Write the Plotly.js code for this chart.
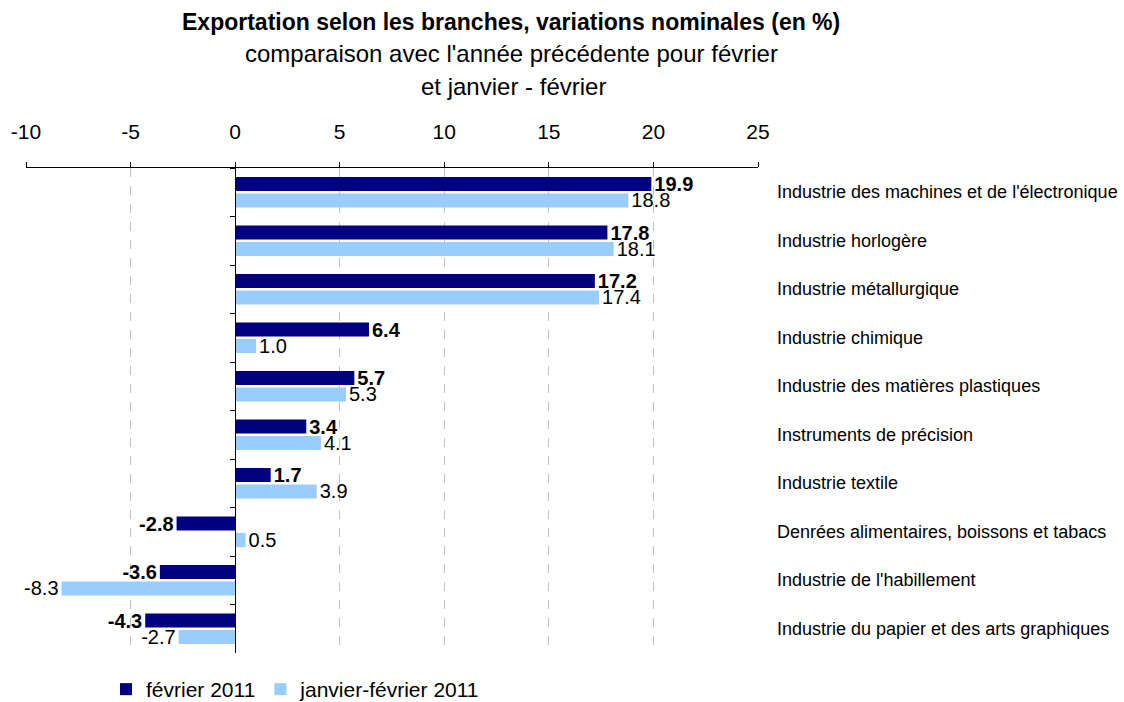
<!DOCTYPE html>
<html>
<head>
<meta charset="utf-8">
<script src="https://cdn.plot.ly/plotly-3.0.1.min.js"></script>
<style>html,body{margin:0;padding:0;background:#fff;}#chart{width:1124px;height:702px;}</style>
</head>
<body>
<div id="chart"></div>
<script>
const categories = [
  "Industrie des machines et de l'électronique",
  "Industrie horlogère",
  "Industrie métallurgique",
  "Industrie chimique",
  "Industrie des matières plastiques",
  "Instruments de précision",
  "Industrie textile",
  "Denrées alimentaires, boissons et tabacs",
  "Industrie de l'habillement",
  "Industrie du papier et des arts graphiques"
];
const fevrier2011 = [19.9, 17.8, 17.2, 6.4, 5.7, 3.4, 1.7, -2.8, -3.6, -4.3];
const janvierFevrier2011 = [18.8, 18.1, 17.4, 1.0, 5.3, 4.1, 3.9, 0.5, -8.3, -2.7];
const seriesNames = ["février 2011", "janvier-février 2011"];
const xTicks = [-10, -5, 0, 5, 10, 15, 20, 25];
const titleLines = [
  "Exportation selon les branches, variations nominales (en %)",
  "comparaison avec l'année précédente pour février",
  "et janvier - février"
];

const FONT = "Liberation Sans, Arial, sans-serif";
const xMin = -10, xMax = 25;
const W = 1124, H = 702, M = {l: 26, r: 366, t: 168, b: 49, autoexpand: false};
const plotH = H - M.t - M.b, plotW = W - M.l - M.r;
const pyPaper = px => (H - M.b - px) / plotH;
const pxPaper = px => (px - M.l) / plotW;

const traces = [
  {
    type: 'bar', orientation: 'h', y: categories, x: fevrier2011, name: seriesNames[0],
    marker: {color: '#000080'},
    text: fevrier2011.map(v => '<b>' + v.toFixed(1) + '</b>'),
    textposition: 'outside', cliponaxis: false, constraintext: 'none',
    textfont: {family: FONT, size: 20, color: '#000'}
  },
  {
    type: 'bar', orientation: 'h', y: categories, x: janvierFevrier2011, name: seriesNames[1],
    marker: {color: '#99CCFF'},
    text: janvierFevrier2011.map(v => v.toFixed(1)),
    textposition: 'outside', cliponaxis: false, constraintext: 'none',
    textfont: {family: FONT, size: 20, color: '#000'}
  }
];

const annotations = categories.map(c => ({
  xref: 'paper', yref: 'y', x: pxPaper(775), y: c, text: c, showarrow: false,
  xanchor: 'left', yanchor: 'middle', font: {family: FONT, size: 18, color: '#000'}
}));
annotations.push({
  xref: 'paper', yref: 'paper', x: pxPaper(511), y: pyPaper(22), text: '<b>' + titleLines[0] + '</b>',
  showarrow: false, xanchor: 'center', yanchor: 'middle', font: {family: FONT, size: 23, color: '#000'}
});
annotations.push({
  xref: 'paper', yref: 'paper', x: pxPaper(511), y: pyPaper(54), text: titleLines[1],
  showarrow: false, xanchor: 'center', yanchor: 'middle', font: {family: FONT, size: 24, color: '#000'}
});
annotations.push({
  xref: 'paper', yref: 'paper', x: pxPaper(513), y: pyPaper(87), text: titleLines[2],
  showarrow: false, xanchor: 'center', yanchor: 'middle', font: {family: FONT, size: 24, color: '#000'}
});

const layout = {
  width: W, height: H,
  margin: M,
  paper_bgcolor: '#fff', plot_bgcolor: '#fff',
  font: {family: FONT, color: '#000'},
  title: {text: ''},
  barmode: 'group', bargap: 0.32, bargroupgap: 0.14,
  xaxis: {
    range: [xMin, xMax], side: 'top', tickvals: xTicks, ticktext: xTicks.map(String),
    showline: true, linecolor: '#000', linewidth: 1,
    ticks: 'outside', ticklen: 5, tickcolor: '#000', ticklabelstandoff: 15,
    showgrid: true, gridcolor: '#c0c0c0', griddash: 'dash', gridwidth: 1,
    zeroline: false, tickfont: {family: FONT, size: 21, color: '#000'},
    automargin: false, fixedrange: true
  },
  yaxis: {
    type: 'category', autorange: 'reversed',
    anchor: 'free', position: (0 - xMin) / (xMax - xMin),
    showline: true, linecolor: '#000', linewidth: 1,
    ticks: 'outside', ticklen: 5, tickcolor: '#000', tickson: 'boundaries',
    showticklabels: false, showgrid: false, zeroline: false,
    automargin: false, fixedrange: true
  },
  showlegend: true,
  legend: {
    orientation: 'h', x: pxPaper(106), xanchor: 'left', y: pyPaper(669), yanchor: 'top',
    font: {family: FONT, size: 21, color: '#000'}, traceorder: 'normal'
  },
  annotations: annotations,
  hovermode: false
};

Plotly.newPlot('chart', traces, layout, {displayModeBar: false, staticPlot: true});
</script>
</body>
</html>
